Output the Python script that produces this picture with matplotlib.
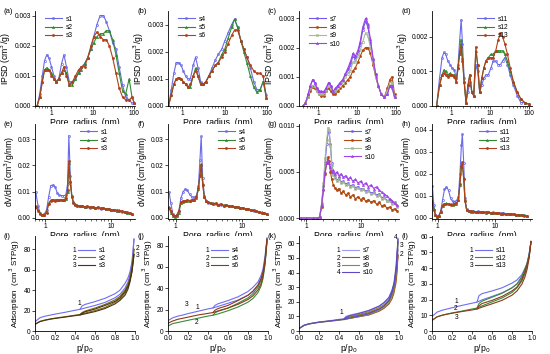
import matplotlib.pyplot as plt
import matplotlib.ticker as mticker

plt.rcParams['font.family'] = ['Liberation Sans', 'DejaVu Sans']
plt.rcParams['font.size'] = 5
plt.rcParams['axes.linewidth'] = 0.6

# ---------------- row 1 : IPSD ----------------
r_a = [0.45, 0.52, 0.6, 0.68, 0.77, 0.87, 1.0, 1.15, 1.3, 1.5, 1.75, 2.0, 2.3, 2.7, 3.2, 3.8, 4.5, 5.3,
       6.3, 7.5, 9, 10.5, 12.5, 15, 18, 21, 25, 30, 36, 43, 52, 62, 75, 88, 100]
a_s1 = [0, 0.0004, 0.0010, 0.0015, 0.0017, 0.0016, 0.0013, 0.0010, 0.0008, 0.0009, 0.0014, 0.0017, 0.0013,
        0.0008, 0.0008, 0.0009, 0.0011, 0.0013, 0.0014, 0.0016, 0.0019, 0.0023, 0.0027, 0.0030, 0.0030,
        0.0028, 0.0025, 0.0021, 0.0019, 0.0013, 0.0007, 0.0003, 0.0002, 0.0001, 0.0001]
a_s2 = [0, 0.0003, 0.0008, 0.0012, 0.00127, 0.0012, 0.0011, 0.0009, 0.0008, 0.0009, 0.0011, 0.0012, 0.0011,
        0.0007, 0.0007, 0.0009, 0.0011, 0.0012, 0.0014, 0.0016, 0.0019, 0.0021, 0.0023, 0.0024, 0.0024,
        0.0025, 0.0025, 0.0022, 0.0017, 0.0011, 0.0005, 0.0004, 0.0009, 0.0003, 0.0001]
a_s3 = [0, 0.0003, 0.0008, 0.0012, 0.0012, 0.0012, 0.0010, 0.0009, 0.0008, 0.0009, 0.0011, 0.0013, 0.0010,
        0.0007, 0.0008, 0.0010, 0.0012, 0.0013, 0.0013, 0.0016, 0.0020, 0.0023, 0.00245, 0.0023, 0.0022,
        0.0022, 0.0020, 0.0016, 0.0011, 0.0006, 0.0003, 0.0002, 0.0002, 0.0003, 0.0001]

r_b = [0.47, 0.55, 0.63, 0.72, 0.82, 0.93, 1.05, 1.2, 1.35, 1.55, 1.8, 2.05, 2.35, 2.7, 3.1, 3.6, 4.2, 5,
       6, 7, 8.5, 10, 12, 14.5, 17, 20, 24, 28, 33, 40, 48, 57, 68, 80, 95]
b_s4 = [0, 0.0006, 0.0012, 0.0016, 0.0016, 0.0015, 0.0013, 0.0011, 0.0010, 0.0010, 0.0015, 0.0018, 0.0014,
        0.0009, 0.0008, 0.0009, 0.0011, 0.0014, 0.0017, 0.0019, 0.0021, 0.0024, 0.0027, 0.0030, 0.0032,
        0.0029, 0.0024, 0.0021, 0.0018, 0.0014, 0.0009, 0.0006, 0.0006, 0.0009, 0.0004]
b_s5 = [0, 0.0004, 0.0008, 0.0010, 0.00105, 0.0010, 0.0009, 0.0008, 0.0007, 0.0007, 0.0011, 0.0014, 0.0011,
        0.0008, 0.0008, 0.0009, 0.0011, 0.0013, 0.0015, 0.0016, 0.0019, 0.0021, 0.0025, 0.0029, 0.0032,
        0.0029, 0.0024, 0.0020, 0.0016, 0.0011, 0.0007, 0.0005, 0.0006, 0.0009, 0.0003]
b_s6 = [0, 0.0004, 0.0008, 0.0010, 0.00105, 0.0010, 0.0009, 0.0008, 0.0007, 0.0008, 0.0011, 0.0013, 0.0011,
        0.0008, 0.0008, 0.0009, 0.0011, 0.0013, 0.0015, 0.0016, 0.0018, 0.0020, 0.0023, 0.0026, 0.0028,
        0.0028, 0.0024, 0.0021, 0.0018, 0.0015, 0.0013, 0.0012, 0.0012, 0.0011, 0.0003]

r_c = [0.4, 0.47, 0.55, 0.63, 0.72, 0.82, 0.93, 1.05, 1.2, 1.38, 1.6, 1.85, 2.1, 2.4, 2.75, 3.2, 3.7, 4.3,
       5, 5.8, 6.7, 7.8, 9, 10.5, 12, 14, 16.5, 19, 22, 26, 30, 35, 42, 50, 60, 70, 80, 92]
c_s7 = [0, 0.0001, 0.0004, 0.0007, 0.0009, 0.0008, 0.0006, 0.0005, 0.00045, 0.00045, 0.0006, 0.0008, 0.0007,
        0.0005, 0.0005, 0.0007, 0.0008, 0.0009, 0.0011, 0.0012, 0.0014, 0.0017, 0.0016, 0.0018, 0.0021,
        0.0026, 0.0029, 0.0027, 0.0022, 0.0016, 0.0011, 0.0007, 0.0004, 0.0003, 0.0004, 0.0007, 0.0006, 0.0003]
c_s8 = [0, 0.0001, 0.0003, 0.0005, 0.00065, 0.0006, 0.0005, 0.0004, 0.00035, 0.00035, 0.0005, 0.0006, 0.0005,
        0.0004, 0.0004, 0.0005, 0.0006, 0.0007, 0.0008, 0.0009, 0.0010, 0.0012, 0.0013, 0.0015, 0.0017,
        0.0019, 0.0020, 0.0020, 0.0018, 0.0014, 0.0010, 0.0007, 0.0004, 0.0003, 0.0006, 0.0009, 0.0010, 0.0004]
c_s9 = [0, 0.0001, 0.0003, 0.0006, 0.0007, 0.0007, 0.0005, 0.0004, 0.0004, 0.0004, 0.0005, 0.0007, 0.0006,
        0.0005, 0.0005, 0.0006, 0.0007, 0.0008, 0.0010, 0.0011, 0.0012, 0.0015, 0.0015, 0.0017, 0.0019,
        0.0022, 0.0025, 0.0024, 0.0020, 0.0015, 0.0010, 0.0007, 0.0004, 0.0003, 0.0005, 0.0008, 0.0008, 0.0003]
c_s10 = [0, 0.0001, 0.0004, 0.0007, 0.0009, 0.0008, 0.0006, 0.0005, 0.0005, 0.0005, 0.0006, 0.0008, 0.0007,
         0.0005, 0.0006, 0.0007, 0.0008, 0.0009, 0.0011, 0.0013, 0.0015, 0.0018, 0.0017, 0.0019, 0.0022,
         0.0027, 0.0030, 0.0028, 0.0023, 0.0016, 0.0011, 0.0007, 0.0004, 0.0003, 0.0004, 0.0007, 0.0007, 0.0003]

r_d = [0.42, 0.5, 0.58, 0.65, 0.72, 0.82, 0.93, 1.05, 1.2, 1.35, 1.5, 1.65, 1.8, 1.95, 2.15, 2.4, 2.7, 3.0,
       3.4, 3.8, 4.3, 4.8, 5.4, 6.1, 6.9, 7.8, 9, 10.5, 12, 14, 16, 18.5, 21, 24, 28, 33, 40, 50, 62, 78, 100]
d_s11 = [0, 0.0008, 0.0014, 0.00155, 0.0015, 0.0013, 0.0012, 0.0011, 0.00105, 0.0008, 0.0012, 0.0019, 0.0025,
         0.0018, 0.0008, 0.0001, 0.0004, 0.0007, 0.0004, 0.0003, 0.0012, 0.0010, 0.0004, 0.0006, 0.0008,
         0.0009, 0.0009, 0.0011, 0.0013, 0.0013, 0.0012, 0.0012, 0.0013, 0.0014, 0.0012, 0.0009, 0.0006,
         0.0003, 0.0001, 0.0001, 0.00005]
d_s12 = [0, 0.0006, 0.0009, 0.00105, 0.0010, 0.0009, 0.00095, 0.0009, 0.0009, 0.0007, 0.0011, 0.0016, 0.0019,
         0.0014, 0.0007, 0.0001, 0.0006, 0.0009, 0.0004, 0.0003, 0.0016, 0.0012, 0.0004, 0.0008, 0.0011,
         0.0013, 0.0014, 0.0015, 0.0015, 0.0016, 0.0016, 0.0016, 0.0016, 0.0015, 0.0013, 0.0010, 0.0007,
         0.0004, 0.0002, 0.0001, 0.00005]
d_s13 = [0, 0.0006, 0.0009, 0.00095, 0.0009, 0.00085, 0.0009, 0.0009, 0.00085, 0.0007, 0.0011, 0.0015, 0.0017,
         0.0013, 0.0007, 0.0001, 0.0006, 0.0009, 0.0004, 0.0003, 0.0017, 0.0012, 0.0004, 0.0008, 0.0011,
         0.0013, 0.0014, 0.0014, 0.0014, 0.0016, 0.0019, 0.0021, 0.0020, 0.0018, 0.0015, 0.0011, 0.0007,
         0.0004, 0.0002, 0.0001, 0.00005]

# ---------------- row 2 : dV/dR ----------------
r_e = [0.72, 0.78, 0.84, 0.9, 0.97, 1.05, 1.13, 1.22, 1.32, 1.42, 1.53, 1.65, 1.78, 1.92, 2.07, 2.2, 2.3,
       2.42, 2.55, 2.7, 2.9, 3.1, 3.4, 3.7, 4.0, 4.4, 4.8, 5.3, 5.8, 6.4, 7.0, 7.7, 8.5, 9.3, 10.2, 11.2,
       12.3, 13.5, 14.8, 16.3, 17.9, 19.7, 21.5]
e_s1 = [0.0098, 0.0045, 0.0018, 0.0012, 0.0014, 0.0030, 0.0080, 0.0123, 0.0125, 0.0118, 0.0095, 0.0086,
        0.0085, 0.0084, 0.0088, 0.0130, 0.0313, 0.0160, 0.0085, 0.0060, 0.0050, 0.0046, 0.0044, 0.0045,
        0.0041, 0.0043, 0.0039, 0.0040, 0.0037, 0.0039, 0.0035, 0.0036, 0.0033, 0.0034, 0.0030, 0.0031,
        0.0027, 0.0028, 0.0024, 0.0022, 0.0019, 0.0017, 0.0015]
e_s2 = [0.0045, 0.0030, 0.0018, 0.0013, 0.0013, 0.0022, 0.0055, 0.0068, 0.0070, 0.0068, 0.0069, 0.0067,
        0.0070, 0.0068, 0.0072, 0.0100, 0.0208, 0.0140, 0.0085, 0.0060, 0.0052, 0.0048, 0.0046, 0.0047,
        0.0043, 0.0045, 0.0041, 0.0042, 0.0039, 0.0040, 0.0036, 0.0038, 0.0034, 0.0035, 0.0031, 0.0032,
        0.0028, 0.0029, 0.0025, 0.0023, 0.0020, 0.0018, 0.0016]
e_s3 = [0.0040, 0.0028, 0.0016, 0.0012, 0.0013, 0.0020, 0.0052, 0.0066, 0.0069, 0.0066, 0.0070, 0.0068,
        0.0069, 0.0070, 0.0074, 0.0105, 0.0215, 0.0135, 0.0080, 0.0058, 0.0050, 0.0047, 0.0045, 0.0046,
        0.0042, 0.0044, 0.0040, 0.0043, 0.0038, 0.0041, 0.0037, 0.0037, 0.0035, 0.0034, 0.0032, 0.0031,
        0.0029, 0.0028, 0.0026, 0.0022, 0.0021, 0.0017, 0.0015]

r_f = [0.80, 0.85, 0.91, 0.97, 1.04, 1.12, 1.2, 1.3, 1.4, 1.5, 1.62, 1.75, 1.9, 2.05, 2.2, 2.32, 2.42,
       2.55, 2.7, 2.9, 3.1, 3.4, 3.7, 4.0, 4.4, 4.8, 5.3, 5.8, 6.4, 7.0, 7.7, 8.5, 9.3, 10.2, 11.2, 12.3,
       13.5, 14.8, 16.3, 17.9, 19.7, 21.5, 23.5]
f_s4 = [0.0098, 0.0055, 0.0015, 0.0008, 0.0010, 0.0025, 0.0075, 0.0100, 0.0110, 0.0105, 0.0090, 0.0080,
        0.0078, 0.0082, 0.0120, 0.0220, 0.0310, 0.0150, 0.0085, 0.0065, 0.0058, 0.0055, 0.0054, 0.0053,
        0.0050, 0.0051, 0.0047, 0.0048, 0.0044, 0.0045, 0.0041, 0.0042, 0.0038, 0.0037, 0.0034, 0.0033,
        0.0030, 0.0028, 0.0025, 0.0022, 0.0020, 0.0017, 0.0014]
f_s5 = [0.0040, 0.0020, 0.0008, 0.0005, 0.0007, 0.0020, 0.0055, 0.0062, 0.0064, 0.0066, 0.0065, 0.0067,
        0.0068, 0.0075, 0.0110, 0.0160, 0.0205, 0.0130, 0.0080, 0.0065, 0.0060, 0.0057, 0.0055, 0.0056,
        0.0051, 0.0053, 0.0048, 0.0050, 0.0045, 0.0046, 0.0042, 0.0043, 0.0039, 0.0038, 0.0035, 0.0034,
        0.0031, 0.0029, 0.0026, 0.0023, 0.0021, 0.0018, 0.0015]
f_s6 = [0.0038, 0.0025, 0.0012, 0.0008, 0.0010, 0.0028, 0.0060, 0.0065, 0.0066, 0.0068, 0.0066, 0.0069,
        0.0070, 0.0078, 0.0112, 0.0165, 0.0200, 0.0125, 0.0078, 0.0063, 0.0059, 0.0056, 0.0054, 0.0055,
        0.0050, 0.0052, 0.0047, 0.0049, 0.0044, 0.0046, 0.0041, 0.0042, 0.0038, 0.0039, 0.0034, 0.0035,
        0.0030, 0.0030, 0.0026, 0.0024, 0.0020, 0.0018, 0.0016]

r_g = [0.8, 1.0, 1.3, 1.6, 1.75, 1.9, 2.05, 2.2, 2.35, 2.5, 2.6, 2.75, 2.9, 3.1, 3.3, 3.6, 3.9, 4.3, 4.7,
       5.2, 5.7, 6.3, 7.0, 7.8, 8.7, 9.7, 10.8, 12, 13.4, 15, 16.8, 18.8, 21, 23.5, 26, 29, 32.5, 36, 40, 44]
g_s7 = [0, 0, 0, 0, 0.0001, 0.0015, 0.0035, 0.0060, 0.0080, 0.0094, 0.0093, 0.0080, 0.0060, 0.0048, 0.0044,
        0.0041, 0.0043, 0.0039, 0.0040, 0.0037, 0.0038, 0.0035, 0.0036, 0.0033, 0.0034, 0.0031, 0.0032,
        0.0029, 0.0030, 0.0027, 0.0028, 0.0025, 0.0026, 0.0022, 0.0023, 0.0019, 0.0020, 0.0016, 0.0017, 0.0013]
g_s8 = [0, 0, 0, 0, 0.0001, 0.0012, 0.0030, 0.0048, 0.0060, 0.0066, 0.0062, 0.0050, 0.0042, 0.0036, 0.0033,
        0.0030, 0.0032, 0.0027, 0.0029, 0.0025, 0.0027, 0.0023, 0.0025, 0.0021, 0.0023, 0.0020, 0.0022,
        0.0018, 0.0020, 0.0017, 0.0019, 0.0015, 0.0017, 0.0013, 0.0014, 0.0011, 0.0012, 0.0009, 0.0010, 0.0008]
g_s9 = [0, 0, 0, 0, 0.0001, 0.0016, 0.0038, 0.0065, 0.0085, 0.0098, 0.0095, 0.0078, 0.0058, 0.0047, 0.0043,
        0.0040, 0.0042, 0.0038, 0.0039, 0.0036, 0.0037, 0.0034, 0.0035, 0.0032, 0.0033, 0.0030, 0.0031,
        0.0028, 0.0029, 0.0026, 0.0027, 0.0024, 0.0025, 0.0021, 0.0022, 0.0018, 0.0019, 0.0015, 0.0016, 0.0012]
g_s10 = [0, 0, 0, 0, 0.0001, 0.0014, 0.0032, 0.0050, 0.0060, 0.0062, 0.0060, 0.0055, 0.0050, 0.0052, 0.0048,
         0.0050, 0.0046, 0.0048, 0.0044, 0.0046, 0.0042, 0.0044, 0.0040, 0.0042, 0.0038, 0.0040, 0.0036,
         0.0038, 0.0034, 0.0036, 0.0032, 0.0034, 0.0030, 0.0028, 0.0026, 0.0024, 0.0021, 0.0019, 0.0016, 0.0014]

r_h = [0.81, 0.86, 0.92, 0.98, 1.05, 1.13, 1.22, 1.32, 1.43, 1.55, 1.68, 1.82, 1.97, 2.13, 2.3, 2.45, 2.6,
       2.7, 2.85, 3.0, 3.2, 3.5, 3.8, 4.2, 4.6, 5.1, 5.6, 6.2, 6.9, 7.6, 8.4, 9.3, 10.3, 11.4, 12.6, 14,
       15.5, 17.2, 19, 21, 23.5, 26, 29, 32, 36]
h_s11 = [0.0147, 0.0060, 0.0015, 0.0008, 0.0010, 0.0030, 0.0080, 0.0130, 0.0140, 0.0125, 0.0090, 0.0075,
         0.0072, 0.0078, 0.0095, 0.0200, 0.0330, 0.0380, 0.0250, 0.0090, 0.0040, 0.0033, 0.0030, 0.0031,
         0.0028, 0.0030, 0.0027, 0.0028, 0.0025, 0.0027, 0.0024, 0.0025, 0.0022, 0.0024, 0.0021, 0.0022,
         0.0019, 0.0020, 0.0017, 0.0018, 0.0015, 0.0015, 0.0013, 0.0012, 0.0010]
h_s12 = [0.0075, 0.0040, 0.0012, 0.0006, 0.0008, 0.0025, 0.0055, 0.0065, 0.0066, 0.0064, 0.0062, 0.0060,
         0.0061, 0.0065, 0.0080, 0.0150, 0.0230, 0.0248, 0.0180, 0.0080, 0.0038, 0.0032, 0.0029, 0.0030,
         0.0027, 0.0029, 0.0026, 0.0027, 0.0024, 0.0026, 0.0023, 0.0024, 0.0021, 0.0023, 0.0020, 0.0021,
         0.0018, 0.0019, 0.0016, 0.0017, 0.0014, 0.0014, 0.0012, 0.0011, 0.0009]
h_s13 = [0.0070, 0.0038, 0.0011, 0.0006, 0.0009, 0.0027, 0.0057, 0.0064, 0.0065, 0.0062, 0.0060, 0.0061,
         0.0063, 0.0066, 0.0082, 0.0155, 0.0235, 0.0252, 0.0175, 0.0078, 0.0036, 0.0031, 0.0030, 0.0029,
         0.0028, 0.0028, 0.0027, 0.0026, 0.0025, 0.0025, 0.0024, 0.0023, 0.0022, 0.0022, 0.0020, 0.0020,
         0.0018, 0.0018, 0.0016, 0.0016, 0.0014, 0.0013, 0.0012, 0.0010, 0.0009]

# ---------------- row 3 : isotherms ----------------
p_ads = [0.005, 0.05, 0.1, 0.15, 0.2, 0.3, 0.4, 0.45, 0.5, 0.6, 0.7, 0.8, 0.85, 0.9, 0.93, 0.95, 0.97, 0.98, 0.99]
p_des = [0.99, 0.97, 0.95, 0.93, 0.9, 0.85, 0.8, 0.7, 0.6, 0.5, 0.47, 0.45]

i_s1_ads = [9.5, 13, 14.5, 15.5, 16.5, 18.3, 20.3, 21.2, 22.5, 25, 28, 32.5, 36, 42, 48, 55, 66, 75, 90]
i_s1_des = [90, 68, 58, 52, 46.5, 40, 36.5, 32, 28.8, 26, 24.5, 21.2]
i_s2_ads = [7, 9.5, 10.8, 11.8, 12.6, 14, 15.5, 16.2, 17.5, 20, 23, 28, 31.5, 37, 43, 50, 62, 70, 80]
i_s2_des = [80, 63, 52, 46, 40, 34, 30.5, 26, 22.5, 19.5, 18, 16.2]
i_s3_ads = [6.8, 9.2, 10.5, 11.5, 12.3, 13.6, 15, 15.7, 16.8, 19, 22, 26.5, 30, 35, 41, 48, 58, 66, 75]
i_s3_des = [75, 59, 50, 44, 38.5, 32.5, 29, 25, 21.5, 18.8, 17.3, 15.7]

j_s4_ads = [10, 12.5, 14, 15, 16.3, 18.5, 20.7, 21.6, 23, 26, 29, 33.5, 37, 43, 49, 56, 67, 75, 87]
j_s4_des = [87, 70, 58, 52, 46, 41, 37, 32, 28.5, 25.5, 24, 21.6]
j_s5_ads = [5, 7, 8, 9, 10, 12, 14, 14.8, 16, 19, 22.5, 27, 30.5, 36, 42, 49, 62, 72, 84]
j_s5_des = [84, 64, 53, 47, 41, 35, 31, 26, 21.5, 18.5, 17, 14.8]
j_s6_ads = [7.5, 9.5, 11, 12, 13, 15, 16.5, 17.3, 18.8, 21.5, 25, 29.5, 33, 38.5, 44, 51, 64, 74, 86]
j_s6_des = [86, 66, 55, 49, 43, 37.5, 33.5, 28.5, 24, 21, 19.5, 17.3]

k_s7_ads = [2, 4, 5, 5.6, 6.2, 7, 8, 8.5, 9.5, 11, 12.5, 15.5, 17.5, 21, 25, 29, 36, 44, 56]
k_s7_des = [56, 40, 32, 27, 23, 19, 17, 14.2, 12.3, 10.8, 10, 8.5]
k_s8_ads = [1.8, 3.8, 4.8, 5.4, 6, 6.8, 7.6, 8, 8.6, 9.8, 11, 13.5, 15.5, 18.5, 22, 26, 33, 40, 52]
k_s8_des = [52, 36, 28.5, 24, 20.5, 17, 15, 12.5, 10.8, 9.5, 8.8, 8]
k_s9_ads = [1.8, 3.8, 4.8, 5.4, 5.9, 6.6, 7.4, 7.8, 8.5, 9.8, 11.2, 14, 16, 19.5, 24, 28, 37, 46, 61]
k_s9_des = [61, 41, 31, 26, 21.5, 18, 16, 13.2, 11.3, 9.8, 9, 7.8]
k_s10_ads = [1.9, 3.9, 4.9, 5.5, 6, 6.8, 7.6, 8, 8.8, 10.2, 11.8, 14.8, 17, 21, 26, 31, 40, 50, 63]
k_s10_des = [63, 44, 33, 28, 23, 19.5, 17, 14, 12, 10.3, 9.5, 8]

l_s11_ads = [9.5, 12, 13.2, 14, 14.8, 16.3, 17.7, 18.4, 19.8, 22, 24.3, 27.5, 30, 34, 38, 42, 48, 52, 57]
l_s11_des = [57, 49, 43, 40, 36, 32.5, 30.5, 27.5, 25.5, 23.8, 22.5, 18.4]
l_s12_ads = [7, 9, 10, 10.8, 11.5, 12.7, 14, 14.6, 16, 18.5, 21, 24.5, 27.5, 32, 36.5, 41, 47, 52, 57]
l_s12_des = [57, 48, 43, 39.5, 35, 30, 27.5, 24, 21.5, 19, 17.5, 14.6]
l_s13_ads = [7, 9, 10, 10.7, 11.3, 12.4, 13.4, 14, 15.2, 17.3, 19.5, 22.8, 25.5, 30, 34.5, 39, 46, 51, 57]
l_s13_des = [57, 47, 42, 38, 33, 28, 25.5, 22, 19.5, 17.5, 16, 14]


W, H = 550, 354
fig = plt.figure(figsize=(5.5, 3.54), dpi=100)
lefts = [35, 168, 299, 432]
tops = [11, 124, 236]
LAB = 6.2  # axis label size


def make_ax(row, col, letter):
    ax = fig.add_axes([lefts[col] / W, 1 - (tops[row] + 95) / H, 100 / W, 95 / H])
    for s in ['top', 'right']:
        ax.spines[s].set_visible(False)
    ax.tick_params(direction='out', length=2, width=0.5, pad=1.0, labelsize=4.8)
    ax.tick_params(which='minor', direction='out', length=1.2, width=0.4)
    ax.text(-0.31, 1.03, '(' + letter + ')', transform=ax.transAxes, va='top', ha='left', fontsize=5.5)
    return ax


blue = '#6a6ae8'
green = '#2f8a2f'
red = '#b0401c'
sty3 = [(blue, 'o', 'none'), (green, '^', green), (red, 'o', red)]
sty4 = [('#7058f0', 'o', 'none'), ('#b04a10', 'o', '#b04a10'), ('#a8b898', 's', 'none'), ('#a040e8', '^', '#a040e8')]


def series_panel(ax, r, ys, names, styles, xlim, ylim, yticks, fmt, xticks, ylabel, leg_x):
    for y, n, (c, m, mf) in zip(ys, names, styles):
        ax.plot(r, y, color=c, lw=0.8, marker=m, ms=1.5, mfc=mf, mew=0.5, label=n)
    ax.set_xscale('log')
    ax.set_xlim(*xlim)
    ax.set_ylim(*ylim)
    ax.set_xticks(xticks)
    ax.xaxis.set_major_formatter(mticker.FuncFormatter(lambda v, p: '%g' % v))
    ax.xaxis.set_minor_formatter(mticker.NullFormatter())
    ax.set_yticks(yticks)
    ax.yaxis.set_major_formatter(mticker.FormatStrFormatter(fmt))
    ax.set_xlabel('Pore  radius  (nm)', fontsize=LAB, labelpad=0.5)
    ax.set_ylabel(ylabel, fontsize=LAB, labelpad=1)
    ax.legend(loc='upper left', bbox_to_anchor=(leg_x, 1.0), frameon=False, fontsize=4.8,
              handlelength=2.6, labelspacing=0.2, handletextpad=0.5, borderpad=0.2)


ipsd = 'IPSD (cm$^3$/g)'
dvdr = 'dV/dR (cm$^3$/g/nm)'
t3 = [0, 0.001, 0.002, 0.003]

ax = make_ax(0, 0, 'a')
series_panel(ax, r_a, [a_s1, a_s2, a_s3], ['s1', 's2', 's3'], sty3, (0.4, 104), (0, 0.00315), t3, '%.3f',
             [1, 10, 100], ipsd, 0.05)
ax = make_ax(0, 1, 'b')
series_panel(ax, r_b, [b_s4, b_s5, b_s6], ['s4', 's5', 's6'], sty3, (0.46, 104), (0, 0.0035), t3, '%.3f',
             [1, 10, 100], ipsd, 0.05)
ax = make_ax(0, 2, 'c')
series_panel(ax, r_c, [c_s7, c_s8, c_s9, c_s10], ['s7', 's8', 's9', 's10'], sty4, (0.32, 120), (0, 0.00325),
             t3, '%.3f', [1, 10, 100], ipsd, 0.05)
ax = make_ax(0, 3, 'd')
series_panel(ax, r_d, [d_s11, d_s12, d_s13], ['s11', 's12', 's13'], sty3, (0.32, 120), (0, 0.00275),
             [0, 0.001, 0.002], '%.3f', [1, 10, 100], ipsd, 0.4)

ax = make_ax(1, 0, 'e')
series_panel(ax, r_e, [e_s1, e_s2, e_s3], ['s1', 's2', 's3'], sty3, (0.7, 23.5), (-0.0004, 0.0357),
             [0, 0.01, 0.02, 0.03], '%.2f', [1, 10], dvdr, 0.4)
ax = make_ax(1, 1, 'f')
series_panel(ax, r_f, [f_s4, f_s5, f_s6], ['s4', 's5', 's6'], sty3, (0.77, 24.3), (-0.0004, 0.0357),
             [0, 0.01, 0.02, 0.03], '%.2f', [1, 10], dvdr, 0.45)
ax = make_ax(1, 2, 'g')
series_panel(ax, r_g, [g_s7, g_s8, g_s9, g_s10], ['s7', 's8', 's9', 's10'], sty4, (0.74, 48), (-0.0001, 0.0102),
             [0, 0.005, 0.010], '%.3f', [1, 10], dvdr, 0.4)
ax = make_ax(1, 3, 'h')
series_panel(ax, r_h, [h_s11, h_s12, h_s13], ['s11', 's12', 's13'], sty3, (0.8, 44), (-0.0005, 0.0427),
             [0, 0.01, 0.02, 0.03, 0.04], '%.2f', [1, 10], dvdr, 0.42)

iso_legends = []


def iso_panel(ax, ads, des, names, colors, ylim, yticks, nums):
    for a, d, n, c in zip(ads, des, names, colors):
        ax.plot(p_ads, a, color=c, lw=0.8, label=n)
        ax.plot(p_des, d, color=c, lw=0.8)
    ax.set_xlim(0, 1.0)
    ax.set_ylim(*ylim)
    ax.set_xticks([0, 0.2, 0.4, 0.6, 0.8, 1.0])
    ax.xaxis.set_major_formatter(mticker.FormatStrFormatter('%.1f'))
    ax.set_yticks(yticks)
    ax.set_xlabel('p/p$_0$', fontsize=LAB, labelpad=0)
    ax.set_ylabel('Adsorption  (cm$^3$ STP/g)', fontsize=5.8, labelpad=1)
    leg = ax.legend(loc='upper left', bbox_to_anchor=(0.38, 0.93), frameon=False, fontsize=4.8,
                    handlelength=2.6, labelspacing=0.05, handletextpad=0.6, borderpad=0.2)
    iso_legends.append(leg)
    for txt, x, y in nums:
        ax.text(x, y, txt, fontsize=4.8, ha='center', va='center', clip_on=False)


ax = make_ax(2, 0, 'i')
iso_panel(ax, [i_s1_ads, i_s2_ads, i_s3_ads], [i_s1_des, i_s2_des, i_s3_des], ['s1', 's2', 's3'],
          ['#6e6ef0', '#7a6a10', '#4a3210'], (0, 93), [0, 20, 40, 60, 80],
          [('1', 0.44, 27), ('2', 1.025, 81), ('3', 1.025, 74)])
ax = make_ax(2, 1, 'j')
iso_panel(ax, [j_s4_ads, j_s5_ads, j_s6_ads], [j_s4_des, j_s5_des, j_s6_des], ['s4', 's5', 's6'],
          ['#6e6ef0', '#3a8a3a', '#8b3a1a'], (0, 89), [0, 20, 40, 60, 80],
          [('3', 0.19, 25), ('1', 0.29, 22), ('2', 0.29, 8)])
ax = make_ax(2, 2, 'k')
iso_panel(ax, [k_s7_ads, k_s8_ads, k_s9_ads, k_s10_ads], [k_s7_des, k_s8_des, k_s9_des, k_s10_des],
          ['s7', 's8', 's9', 's10'], ['#9a9af0', '#a0501a', '#8a8a3a', '#5a4ac8'], (0, 65),
          [0, 10, 20, 30, 40, 50, 60],
          [('1', 0.42, 12.5), ('4', 0.965, 64), ('3', 1.025, 58.5), ('2', 1.025, 52)])
ax = make_ax(2, 3, 'l')
iso_panel(ax, [l_s11_ads, l_s12_ads, l_s13_ads], [l_s11_des, l_s12_des, l_s13_des], ['s11', 's12', 's13'],
          ['#6e6ef0', '#3a8a3a', '#8b3a1a'], (0, 60.5), [0, 10, 20, 30, 40, 50, 60],
          [('1', 0.24, 19), ('2', 0.24, 14.2), ('3', 0.25, 8.5)])

# numbers in front of the isotherm legend lines
fig.canvas.draw()
for leg in iso_legends:
    for k, (ln, tx) in enumerate(zip(leg.get_lines(), leg.get_texts())):
        lb = ln.get_window_extent()
        tb = tx.get_window_extent()
        fig.text((lb.x0 - 1.5) / W, (tb.y0 + tb.y1) / 2 / H, str(k + 1), fontsize=4.8, ha='right', va='center')

fig.savefig('out.png', dpi=100)
